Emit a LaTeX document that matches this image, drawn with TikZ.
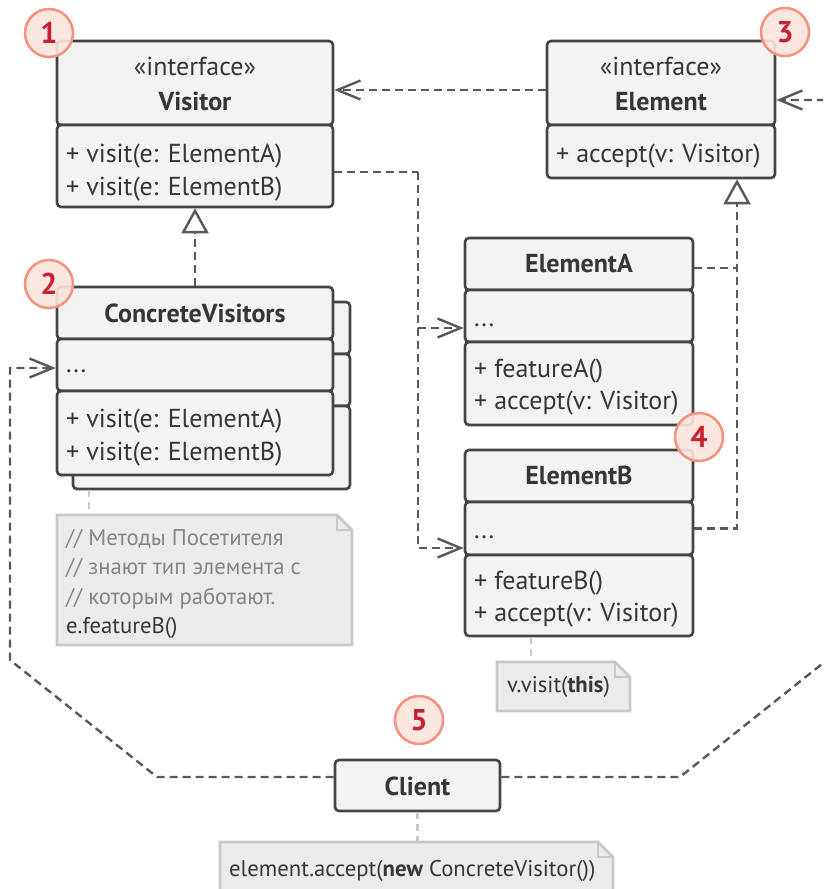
\documentclass[tikz,border=0pt]{standalone}
\usepackage{fontspec}
\setmainfont{PT Sans}
\usetikzlibrary{arrows.meta}
\definecolor{boxfill}{HTML}{F3F3F3}
\definecolor{boxline}{HTML}{444444}
\definecolor{txt}{HTML}{363636}
\definecolor{dashc}{HTML}{595959}
\definecolor{notefill}{HTML}{EBEBEB}
\definecolor{noteline}{HTML}{C8C8C8}
\definecolor{notetxt}{HTML}{858585}
\definecolor{badgefill}{HTML}{FCE4DD}
\definecolor{badgeline}{HTML}{F5927D}
\definecolor{badgetxt}{HTML}{C8202F}
\tikzset{
  comp/.style={draw=boxline, fill=boxfill, line width=2.6pt, rounded corners=4pt, inner sep=0pt},
  ctext/.style={text=txt, inner sep=0pt, font=\fontsize{26}{30}\selectfont},
  btext/.style={ctext, font=\fontsize{26}{30}\selectfont\bfseries},
  ntext/.style={inner sep=0pt, anchor=base west, font=\fontsize{22.7}{26}\selectfont},
  dep/.style={draw=dashc, line width=2.4pt, dash pattern=on 8pt off 5pt, -{Straight Barb[length=23pt,width=19pt]}},
  dline/.style={draw=dashc, line width=2.4pt, dash pattern=on 8pt off 5pt},
  real/.style={draw=dashc, line width=2.4pt, dash pattern=on 8pt off 5pt, -{Triangle[open,fill=white,length=25pt,width=27pt]}},
  notestyle/.style={draw=noteline, fill=notefill, line width=2.6pt, line join=miter},
  noteconn/.style={draw=noteline, line width=2.4pt, dash pattern=on 7pt off 5pt},
  badge/.style={circle, draw=badgeline, fill=badgefill, fill opacity=0.9, text opacity=1, line width=2.5pt, minimum size=48pt, inner sep=0pt, text=badgetxt, font=\fontsize{30}{30}\selectfont\bfseries}
}
\newcommand\comp[5]{\node[comp, minimum width={(#4-#2)*1pt}, minimum height={(#5-#3)*1pt}] (#1) at ({(#2+#4)/2},{(#3+#5)/2}) {};}
\newcommand\notebox[5]{%
  \node[inner sep=0pt, outer sep=0pt, minimum width={(#4-#2)*1pt}, minimum height={(#5-#3)*1pt}] (#1) at ({(#2+#4)/2},{(#3+#5)/2}) {};
  \draw[notestyle] (#1.south west) -- (#1.north west) -- ([xshift=-15pt]#1.north east) -- ([yshift=-15pt]#1.north east) -- (#1.south east) -- cycle;
  \draw[notestyle, fill=none] ([xshift=-15pt]#1.north east) -- ([xshift=-15pt,yshift=-15pt]#1.north east) -- ([yshift=-15pt]#1.north east);
}
\begin{document}
\begin{tikzpicture}[x=1pt,y=-1pt]
\useasboundingbox (0,0) rectangle (823,889);
\fill[white] (0,0) rectangle (823,889);
\clip (0,0) rectangle (823,889);

% ---------- Visitor ----------
\comp{visH}{57}{41}{333}{125}
\comp{visM}{57}{125}{333}{207}
\node[ctext, anchor=base] (visS) at (195,75) {«interface»};
\node[btext, anchor=base] (visN) at (195,110) {Visitor};
\node[ctext, anchor=base west] (visM1) at (66,162) {+ visit(e: ElementA)};
\node[ctext, anchor=base west] (visM2) at (66,195) {+ visit(e: ElementB)};

% ---------- Element ----------
\comp{elH}{547}{41}{775}{125}
\comp{elM}{547}{125}{775}{178}
\node[ctext, anchor=base] (elS) at (661,75) {«interface»};
\node[btext, anchor=base] (elN) at (661,110) {Element};
\node[ctext, anchor=base west] (elM1) at (556,162) {+ accept(v: Visitor)};

% ---------- ConcreteVisitors (stack) ----------
\comp{cvB1}{73}{302}{350}{354}
\comp{cvB2}{73}{354}{350}{406}
\comp{cvB3}{73}{406}{350}{489}
\comp{cvH}{57}{287}{333}{339}
\comp{cvD}{57}{339}{333}{391}
\comp{cvM}{57}{391}{333}{475}
\node[btext, anchor=base] (cvN) at (195,322) {ConcreteVisitors};
\node[ctext, anchor=base west] (cvDots) at (66,372) {...};
\node[ctext, anchor=base west] (cvM1) at (66,427) {+ visit(e: ElementA)};
\node[ctext, anchor=base west] (cvM2) at (66,460) {+ visit(e: ElementB)};

% ---------- ElementA ----------
\comp{eaH}{465}{238}{693}{290}
\comp{eaD}{465}{290}{693}{342}
\comp{eaM}{465}{342}{693}{425}
\node[btext, anchor=base] (eaN) at (579,272) {ElementA};
\node[ctext, anchor=base west] (eaDots) at (474,326) {...};
\node[ctext, anchor=base west] (eaM1) at (474,377) {+ featureA()};
\node[ctext, anchor=base west] (eaM2) at (474,409) {+ accept(v: Visitor)};

% ---------- ElementB ----------
\comp{ebH}{465}{450}{693}{502}
\comp{ebD}{465}{502}{693}{555}
\comp{ebM}{465}{555}{693}{636}
\node[btext, anchor=base] (ebN) at (579,484) {ElementB};
\node[ctext, anchor=base west] (ebDots) at (474,538) {...};
\node[ctext, anchor=base west] (ebM1) at (474,589) {+ featureB()};
\node[ctext, anchor=base west] (ebM2) at (474,621) {+ accept(v: Visitor)};

% ---------- Client ----------
\comp{client}{335}{760}{500}{811}
\node[btext, anchor=base] (clN) at (417.5,795) {Client};

% ---------- Notes ----------
\notebox{n1}{57}{515}{352}{645}
\node[ntext, text=notetxt] (n1a) at (66,545) {// Методы Посетителя};
\node[ntext, text=notetxt] (n1b) at (66,574.5) {// знают тип элемента с};
\node[ntext, text=notetxt] (n1c) at (66,604) {// которым работают.};
\node[ntext, text=txt] (n1d) at (66,633) {e.featureB()};

\notebox{n2}{497}{662}{630}{711}
\node[ntext, text=txt] (n2a) at (507,692) {v.visit(\textbf{this})};

\notebox{n3}{220}{842}{613}{900}
\node[ntext, text=txt] (n3a) at (229,876) {element.accept(\textbf{new} ConcreteVisitor())};

% ---------- Note connectors ----------
\coordinate (n1c1) at (89,515);
\draw[noteconn] (n1c1 |- cvB3.south) -- (n1c1);
\draw[noteconn] ([xshift=-48pt]ebM.south) -- ([xshift=-48pt]ebM.south |- n2.north);
\draw[noteconn] (client.south) -- (client.south |- n3.north);

% ---------- Connectors ----------
% Element -> Visitor
\draw[dep] ([yshift=-7pt]elH.west) -- ([yshift=-7pt]elH.west -| visH.east);
% Visitor -> ElementA / ElementB
\coordinate (vj) at (418,172);
\draw[dline] ([yshift=-6pt]visM.east) -- (vj);
\draw[dep] (vj) |- ([yshift=-12pt]eaD.west);
\draw[dep] (vj) |- ([yshift=-19.5pt]ebD.west);
% ConcreteVisitors -> Visitor
\draw[real] (cvH.north) -- (visM.south);
% ElementA / ElementB -> Element
\coordinate (ej) at (737,178);
\draw[dline] (ebD.east) -| ([yshift=-4pt]eaH.east -| ej);
\draw[real] ([yshift=-4pt]eaH.east) -| (elM.south -| ej);
% Client -> ConcreteVisitors
\coordinate (cl1) at (157,777);
\coordinate (cl2) at (10,660);
\draw[dep] ([yshift=8.5pt]client.west) -- (cl1) -- (cl2) |- ([yshift=-3pt]cvD.west);
% Client -> Element (routed outside the frame)
\coordinate (cr1) at (680,777);
\coordinate (cr2) at (832,656);
\draw[dep] ([yshift=8.5pt]client.east) -- (cr1) -- (cr2) |- ([yshift=-17pt]elH.east);

% ---------- Badges ----------
\node[badge] (b1) at (49,33) {1};
\node[badge] (b2) at (49,284) {2};
\node[badge] (b3) at (785,32) {3};
\node[badge] (b4) at (699,437) {4};
\node[badge] (b5) at (419,720) {5};
\end{tikzpicture}
\end{document}
